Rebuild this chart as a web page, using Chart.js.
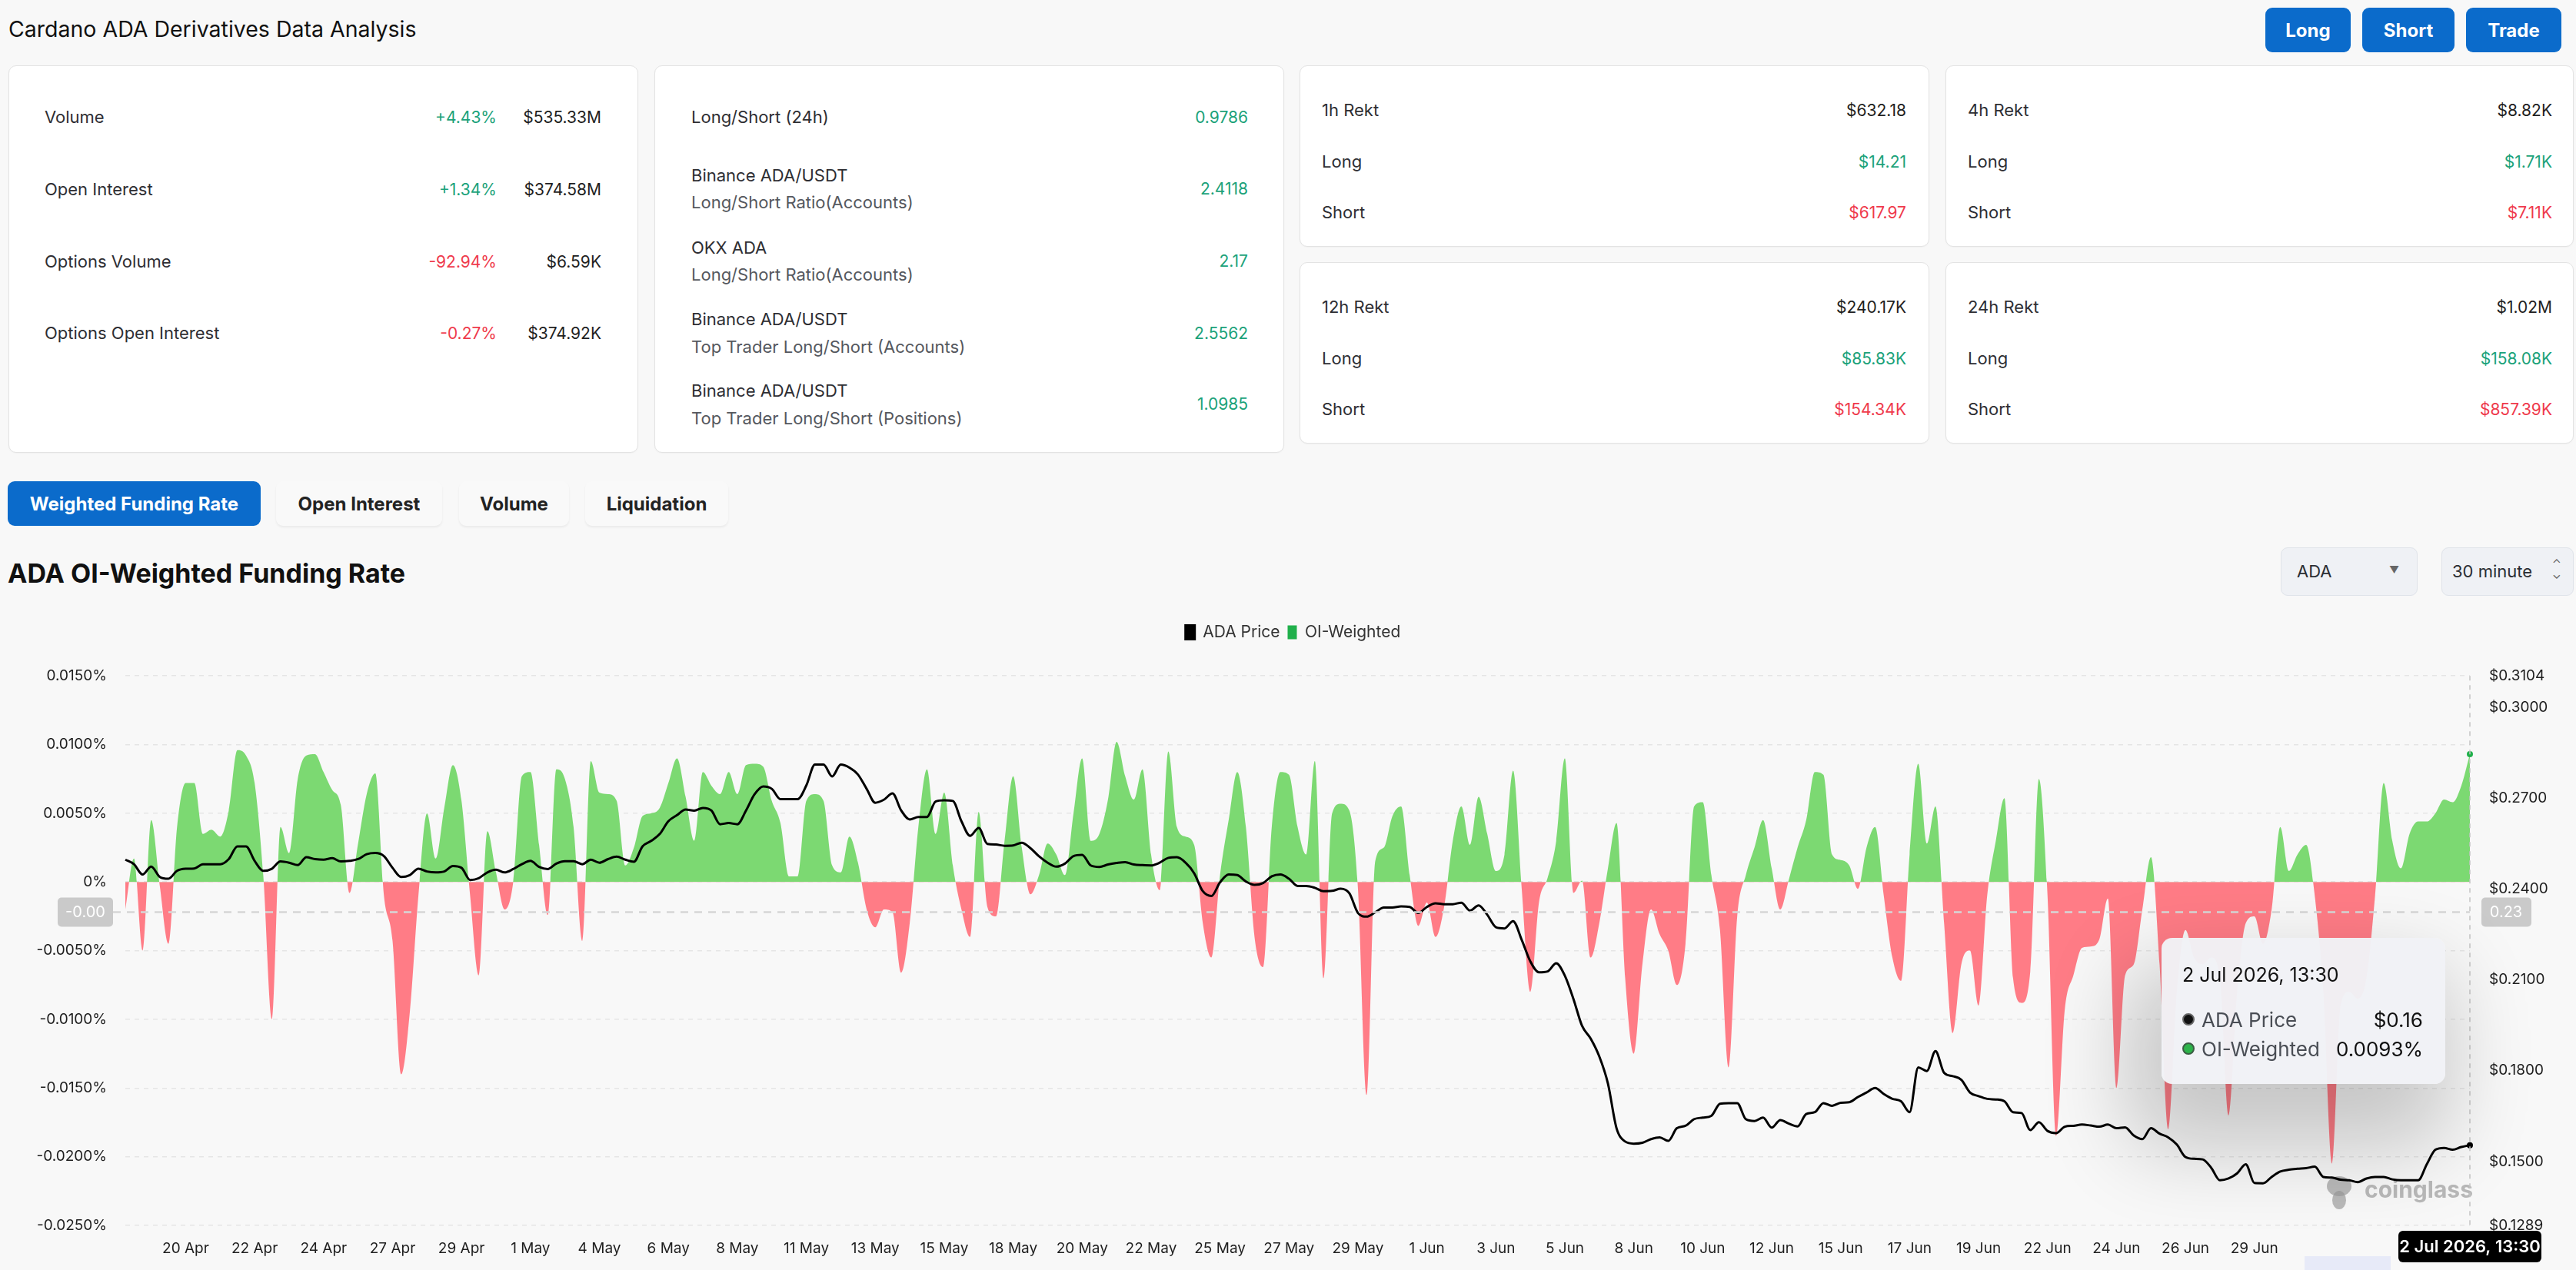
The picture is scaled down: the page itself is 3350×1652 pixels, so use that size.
<!DOCTYPE html>
<html>
<head>
<meta charset="utf-8">
<title>Cardano ADA Derivatives Data Analysis</title>
<script src="https://cdn.jsdelivr.net/npm/chart.js@4.4.1/dist/chart.umd.min.js"></script>
<style>
  body { margin: 0; width: 3350px; height: 1652px; background: #f8f8f8; font-family: Inter, "Noto Sans", sans-serif; color: #1d1d1f; position: relative; overflow: hidden; }
  .abs { position: absolute; white-space: nowrap; }
  .card { position: absolute; background: #fff; border: 1px solid #e3e3e3; border-radius: 10px; box-sizing: border-box; box-shadow: 0 1px 2px rgba(0,0,0,0.03); }
  .row { position: absolute; transform: translateY(-50%); font-size: 22px; white-space: nowrap; color: #2e2e33; }
  .sub { font-size: 22px; color: #55585e; }
  .val { color: #1f1f22; font-size: 21px; }
  .up { color: #1ba27a; font-size: 21px; }
  .down { color: #ef3a4c; font-size: 21px; }
  .btn { position: absolute; top: 10px; height: 58px; border-radius: 9px; background: #0b6bcb; color: #fff; font-weight: 700; font-size: 24px; display: flex; align-items: center; justify-content: center; }
  .tab { position: absolute; top: 626px; height: 58px; border-radius: 9px; font-weight: 700; font-size: 24px; display: flex; align-items: center; justify-content: center; color: #222; background: #f9f9f9; box-shadow: 0 2px 3px rgba(0,0,0,0.06); }
  .tab.active { background: #0b6bcb; color: #fff; box-shadow: none; }
  .select { position: absolute; top: 712px; height: 63px; background: #eff1f5; border: 1px solid #dfe3e9; border-radius: 9px; box-sizing: border-box; font-size: 22px; color: #2a2d33; }
  #tip { position: absolute; left: 2811px; top: 1220px; width: 369px; height: 190px; background: rgba(241,242,246,0.97); border-radius: 14px; box-shadow: -20px 60px 110px 25px rgba(0,0,0,0.2); }
  #tip .t { position: absolute; transform: translateY(-50%); white-space: nowrap; }
  .dot { position: absolute; width: 12px; height: 12px; border-radius: 50%; transform: translateY(-50%); }
</style>
</head>
<body>

<div class="abs" style="left:11px;top:20px;font-size:28.5px;color:#111;">Cardano ADA Derivatives Data Analysis</div>
<div class="btn" style="left:2946px;width:111px;">Long</div>
<div class="btn" style="left:3072px;width:120px;">Short</div>
<div class="btn" style="left:3207px;width:124px;">Trade</div>

<!-- market overview -->
<div class="card" style="left:11px;top:85px;width:819px;height:504px;">
  <div class="row" style="left:46px;top:66px;">Volume</div>
  <div class="row up" style="right:183px;top:66px;">+4.43%</div>
  <div class="row val" style="right:47px;top:66px;">$535.33M</div>
  <div class="row" style="left:46px;top:160px;">Open Interest</div>
  <div class="row up" style="right:183px;top:160px;">+1.34%</div>
  <div class="row val" style="right:47px;top:160px;">$374.58M</div>
  <div class="row" style="left:46px;top:254px;">Options Volume</div>
  <div class="row down" style="right:183px;top:254px;">-92.94%</div>
  <div class="row val" style="right:47px;top:254px;">$6.59K</div>
  <div class="row" style="left:46px;top:347px;">Options Open Interest</div>
  <div class="row down" style="right:183px;top:347px;">-0.27%</div>
  <div class="row val" style="right:47px;top:347px;">$374.92K</div>
</div>

<div class="card" style="left:851px;top:85px;width:819px;height:504px;">
  <div class="row" style="left:47px;top:66px;">Long/Short (24h)</div>
  <div class="row up" style="right:46px;top:66px;">0.9786</div>
  <div class="row" style="left:47px;top:142px;">Binance ADA/USDT</div>
  <div class="row sub" style="left:47px;top:177px;">Long/Short Ratio(Accounts)</div>
  <div class="row up" style="right:46px;top:159px;">2.4118</div>
  <div class="row" style="left:47px;top:236px;">OKX ADA</div>
  <div class="row sub" style="left:47px;top:271px;">Long/Short Ratio(Accounts)</div>
  <div class="row up" style="right:46px;top:253px;">2.17</div>
  <div class="row" style="left:47px;top:329px;">Binance ADA/USDT</div>
  <div class="row sub" style="left:47px;top:365px;">Top Trader Long/Short (Accounts)</div>
  <div class="row up" style="right:46px;top:347px;">2.5562</div>
  <div class="row" style="left:47px;top:422px;">Binance ADA/USDT</div>
  <div class="row sub" style="left:47px;top:458px;">Top Trader Long/Short (Positions)</div>
  <div class="row up" style="right:46px;top:439px;">1.0985</div>
</div>

<div class="card" style="left:1690px;top:85px;width:819px;height:236px;">
  <div class="row" style="left:28px;top:57px;">1h Rekt</div><div class="row val" style="right:29px;top:57px;">$632.18</div>
  <div class="row" style="left:28px;top:124px;">Long</div><div class="row up" style="right:29px;top:124px;">$14.21</div>
  <div class="row" style="left:28px;top:190px;">Short</div><div class="row down" style="right:29px;top:190px;">$617.97</div>
</div>
<div class="card" style="left:2530px;top:85px;width:817px;height:236px;">
  <div class="row" style="left:28px;top:57px;">4h Rekt</div><div class="row val" style="right:27px;top:57px;">$8.82K</div>
  <div class="row" style="left:28px;top:124px;">Long</div><div class="row up" style="right:27px;top:124px;">$1.71K</div>
  <div class="row" style="left:28px;top:190px;">Short</div><div class="row down" style="right:27px;top:190px;">$7.11K</div>
</div>
<div class="card" style="left:1690px;top:341px;width:819px;height:236px;">
  <div class="row" style="left:28px;top:57px;">12h Rekt</div><div class="row val" style="right:29px;top:57px;">$240.17K</div>
  <div class="row" style="left:28px;top:124px;">Long</div><div class="row up" style="right:29px;top:124px;">$85.83K</div>
  <div class="row" style="left:28px;top:190px;">Short</div><div class="row down" style="right:29px;top:190px;">$154.34K</div>
</div>
<div class="card" style="left:2530px;top:341px;width:817px;height:236px;">
  <div class="row" style="left:28px;top:57px;">24h Rekt</div><div class="row val" style="right:27px;top:57px;">$1.02M</div>
  <div class="row" style="left:28px;top:124px;">Long</div><div class="row up" style="right:27px;top:124px;">$158.08K</div>
  <div class="row" style="left:28px;top:190px;">Short</div><div class="row down" style="right:27px;top:190px;">$857.39K</div>
</div>

<!-- tabs -->
<div class="tab active" style="left:10px;width:329px;">Weighted Funding Rate</div>
<div class="tab" style="left:359px;width:216px;">Open Interest</div>
<div class="tab" style="left:597px;width:143px;">Volume</div>
<div class="tab" style="left:761px;width:186px;">Liquidation</div>

<div class="abs" style="left:10px;top:725px;font-size:34px;font-weight:700;color:#111;">ADA OI-Weighted Funding Rate</div>

<div class="select" style="left:2966px;width:178px;">
  <span class="abs" style="left:20px;top:17px;">ADA</span>
  <span class="abs" style="left:140px;top:20px;font-size:13px;color:#666;">&#9660;</span>
</div>
<div class="select" style="left:3175px;width:172px;">
  <span class="abs" style="left:13px;top:17px;">30 minute</span>
  <span class="abs" style="left:143px;top:12px;font-size:15px;line-height:15px;color:#666;">&#8963;<br>&#8964;</span>
</div>

<div id="chartBox" style="position:absolute;left:0;top:790px;width:3350px;height:862px;">
  <canvas id="fundingChart"></canvas>
</div>

<div class="abs" style="left:2997px;top:1634px;width:112px;height:18px;background:#e7eaf8;"></div>

<div id="tip">
  <div class="t" id="tipTitle" style="left:27px;top:48px;font-size:25px;color:#111;"></div>
  <div class="dot" style="left:27px;top:106px;background:#111;border:2px solid #666;"></div>
  <div class="t" style="left:52px;top:106px;font-size:26px;color:#4a4e55;">ADA Price</div>
  <div class="t" id="tipPrice" style="right:29px;top:106px;font-size:26px;color:#111;"></div>
  <div class="dot" style="left:27px;top:144px;background:#2db34a;border:2px solid #3c5d44;"></div>
  <div class="t" style="left:52px;top:144px;font-size:26px;color:#4a4e55;">OI-Weighted</div>
  <div class="t" id="tipRate" style="right:29px;top:144px;font-size:26px;color:#111;"></div>
</div>

<script>
// x-axis: one point every 1/8 of a tick step, first tick at point 7
const tickLabels = ['20 Apr', '22 Apr', '24 Apr', '27 Apr', '29 Apr', '1 May', '4 May', '6 May', '8 May', '11 May',
    '13 May', '15 May', '18 May', '20 May', '22 May', '25 May', '27 May', '29 May', '1 Jun', '3 Jun',
    '5 Jun', '8 Jun', '10 Jun', '12 Jun', '15 Jun', '17 Jun', '19 Jun', '22 Jun', '24 Jun', '26 Jun', '29 Jun'];
const firstTickIndex = 7;
const pointsPerTick = 8;
const lastTimeLabel = '2 Jul 2026, 13:30';

// OI-weighted funding rate (%)
const fundingRate = [
    -0.0020, 0.0017, -0.0050, 0.0045, -0.0003, -0.0045, 0.0040, 0.0072, 0.0072, 0.0035,
    0.0038, 0.0033, 0.0052, 0.0096, 0.0092, 0.0072, 0.0005, -0.0100, 0.0040, 0.0021,
    0.0075, 0.0092, 0.0093, 0.0080, 0.0067, 0.0056, -0.0008, 0.0028, 0.0064, 0.0079,
    -0.0010, -0.0043, -0.0140, -0.0095, -0.0010, 0.0050, 0.0017, 0.0054, 0.0085, 0.0059,
    -0.0010, -0.0068, 0.0037, 0.0007, -0.0020, 0.0000, 0.0077, 0.0080, 0.0027, -0.0024,
    0.0082, 0.0075, 0.0040, -0.0043, 0.0088, 0.0065, 0.0064, 0.0059, 0.0012, 0.0025,
    0.0048, 0.0050, 0.0054, 0.0072, 0.0090, 0.0062, 0.0030, 0.0080, 0.0070, 0.0064,
    0.0080, 0.0064, 0.0085, 0.0086, 0.0084, 0.0059, 0.0043, 0.0004, 0.0004, 0.0059,
    0.0064, 0.0059, 0.0012, 0.0007, 0.0033, 0.0014, -0.0020, -0.0033, -0.0020, -0.0022,
    -0.0066, -0.0030, 0.0040, 0.0082, 0.0035, 0.0065, 0.0012, -0.0020, -0.0040, 0.0051,
    -0.0018, -0.0025, 0.0030, 0.0077, 0.0025, -0.0009, 0.0005, 0.0028, 0.0020, 0.0005,
    0.0050, 0.0090, 0.0030, 0.0035, 0.0060, 0.0102, 0.0077, 0.0060, 0.0082, 0.0020,
    -0.0006, 0.0095, 0.0040, 0.0033, 0.0027, -0.0030, -0.0055, 0.0005, 0.0045, 0.0080,
    0.0040, -0.0040, -0.0062, 0.0040, 0.0080, 0.0078, 0.0040, 0.0020, 0.0088, -0.0070,
    0.0050, 0.0057, 0.0052, -0.0005, -0.0155, 0.0015, 0.0025, 0.0048, 0.0055, 0.0005,
    -0.0032, -0.0015, -0.0040, -0.0018, 0.0030, 0.0055, 0.0027, 0.0062, 0.0035, 0.0008,
    0.0020, 0.0081, -0.0005, -0.0080, -0.0015, 0.0003, 0.0030, 0.0090, -0.0008, 0.0001,
    -0.0055, -0.0030, 0.0010, 0.0043, -0.0070, -0.0125, -0.0060, -0.0020, -0.0038, -0.0050,
    -0.0075, -0.0045, 0.0055, 0.0058, 0.0005, -0.0035, -0.0135, -0.0025, 0.0005, 0.0025,
    0.0045, 0.0010, -0.0020, 0.0002, 0.0025, 0.0045, 0.0080, 0.0078, 0.0020, 0.0016,
    0.0012, -0.0005, 0.0025, 0.0040, -0.0010, -0.0055, -0.0072, 0.0020, 0.0086, 0.0028,
    0.0055, -0.0030, -0.0110, -0.0060, -0.0050, -0.0090, -0.0010, 0.0030, 0.0061, -0.0070,
    -0.0088, -0.0065, 0.0075, -0.0010, -0.0185, -0.0093, -0.0068, -0.0048, -0.0047, -0.0042,
    -0.0012, -0.0150, -0.0068, -0.0060, -0.0020, 0.0018, -0.0060, -0.0180, -0.0080, -0.0035,
    -0.0055, -0.0060, -0.0055, -0.0070, -0.0170, -0.0080, -0.0030, -0.0025, -0.0045, -0.0020,
    0.0040, 0.0008, 0.0020, 0.0027, -0.0010, -0.0080, -0.0205, -0.0090, -0.0080, -0.0085,
    -0.0070, -0.0010, 0.0072, 0.0030, 0.0010, 0.0035, 0.0044, 0.0044, 0.0050, 0.0060,
    0.0058, 0.0070, 0.0093
];

// ADA price (USD)
const adaPrice = [
    0.2497, 0.2482, 0.2448, 0.2474, 0.2440, 0.2434, 0.2460, 0.2467, 0.2468, 0.2482,
    0.2482, 0.2482, 0.2499, 0.2541, 0.2541, 0.2493, 0.2460, 0.2467, 0.2491, 0.2487,
    0.2479, 0.2505, 0.2499, 0.2497, 0.2502, 0.2491, 0.2493, 0.2499, 0.2515, 0.2519,
    0.2509, 0.2470, 0.2440, 0.2446, 0.2467, 0.2458, 0.2455, 0.2458, 0.2476, 0.2470,
    0.2430, 0.2436, 0.2455, 0.2464, 0.2455, 0.2466, 0.2482, 0.2493, 0.2473, 0.2466,
    0.2484, 0.2492, 0.2492, 0.2482, 0.2497, 0.2487, 0.2499, 0.2507, 0.2497, 0.2490,
    0.2541, 0.2559, 0.2582, 0.2624, 0.2644, 0.2663, 0.2659, 0.2668, 0.2659, 0.2614,
    0.2618, 0.2614, 0.2659, 0.2713, 0.2739, 0.2731, 0.2697, 0.2697, 0.2697, 0.2742,
    0.2811, 0.2811, 0.2772, 0.2811, 0.2801, 0.2778, 0.2731, 0.2685, 0.2695, 0.2716,
    0.2660, 0.2630, 0.2638, 0.2638, 0.2689, 0.2693, 0.2691, 0.2624, 0.2576, 0.2602,
    0.2549, 0.2547, 0.2543, 0.2544, 0.2553, 0.2535, 0.2508, 0.2487, 0.2474, 0.2484,
    0.2509, 0.2513, 0.2478, 0.2473, 0.2481, 0.2486, 0.2489, 0.2481, 0.2479, 0.2478,
    0.2487, 0.2503, 0.2505, 0.2487, 0.2452, 0.2393, 0.2377, 0.2422, 0.2448, 0.2446,
    0.2425, 0.2414, 0.2420, 0.2442, 0.2448, 0.2434, 0.2410, 0.2410, 0.2404, 0.2393,
    0.2394, 0.2401, 0.2386, 0.2321, 0.2309, 0.2323, 0.2339, 0.2339, 0.2343, 0.2341,
    0.2321, 0.2341, 0.2353, 0.2350, 0.2350, 0.2355, 0.2329, 0.2346, 0.2315, 0.2274,
    0.2270, 0.2294, 0.2232, 0.2161, 0.2125, 0.2128, 0.2155, 0.2114, 0.2037, 0.1948,
    0.1906, 0.1847, 0.1758, 0.1610, 0.1566, 0.1559, 0.1562, 0.1574, 0.1580, 0.1568,
    0.1610, 0.1618, 0.1640, 0.1645, 0.1651, 0.1691, 0.1693, 0.1693, 0.1640, 0.1634,
    0.1645, 0.1612, 0.1637, 0.1625, 0.1616, 0.1657, 0.1663, 0.1693, 0.1684, 0.1694,
    0.1696, 0.1713, 0.1728, 0.1743, 0.1723, 0.1707, 0.1699, 0.1663, 0.1811, 0.1799,
    0.1865, 0.1793, 0.1782, 0.1770, 0.1728, 0.1716, 0.1707, 0.1705, 0.1699, 0.1663,
    0.1660, 0.1604, 0.1630, 0.1601, 0.1594, 0.1615, 0.1618, 0.1622, 0.1619, 0.1615,
    0.1622, 0.1610, 0.1613, 0.1586, 0.1574, 0.1610, 0.1592, 0.1580, 0.1556, 0.1515,
    0.1509, 0.1507, 0.1479, 0.1438, 0.1444, 0.1461, 0.1491, 0.1429, 0.1428, 0.1449,
    0.1467, 0.1473, 0.1476, 0.1478, 0.1483, 0.1449, 0.1447, 0.1440, 0.1438, 0.1432,
    0.1444, 0.1449, 0.1449, 0.1441, 0.1438, 0.1438, 0.1438, 0.1491, 0.1539, 0.1545,
    0.1539, 0.1548, 0.1554
];

const priceTicks = [0.1289, 0.15, 0.18, 0.21, 0.24, 0.27, 0.30, 0.3104];
const crosshairRate = -0.0022;   // where the hover line sits on the left axis

const FONT = 'Inter, "Noto Sans", sans-serif';
const lastIndex = fundingRate.length - 1;

const categories = fundingRate.map(function(_, i) {
    const k = (i - firstTickIndex) / pointsPerTick;
    return (Number.isInteger(k) && k >= 0 && k < tickLabels.length) ? tickLabels[k] : '';
});

function roundRect(ctx, x, y, w, h, r) {
    ctx.beginPath();
    ctx.moveTo(x + r, y);
    ctx.arcTo(x + w, y, x + w, y + h, r);
    ctx.arcTo(x + w, y + h, x, y + h, r);
    ctx.arcTo(x, y + h, x, y, r);
    ctx.arcTo(x, y, x + w, y, r);
    ctx.closePath();
}

// watermark + hover crosshair with its axis labels
const crosshairPlugin = {
    id: 'crosshair',
    beforeDatasetsDraw(chart) {
        const ctx = chart.ctx, a = chart.chartArea;
        ctx.save();
        ctx.fillStyle = 'rgba(150,150,150,0.65)';
        const lx = a.right - 170, ly = a.bottom - 45;
        ctx.beginPath();
        ctx.ellipse(lx, ly - 6, 16, 13, 0, 0, Math.PI * 2);
        ctx.fill();
        ctx.beginPath();
        ctx.ellipse(lx, ly + 12, 9, 12, 0, 0, Math.PI * 2);
        ctx.fill();
        ctx.font = '700 30px ' + FONT;
        ctx.textBaseline = 'middle';
        ctx.fillText('coinglass', a.right - 137, ly);
        ctx.restore();
    },
    afterDraw(chart) {
        const ctx = chart.ctx, a = chart.chartArea;
        const xs = chart.scales.x, yl = chart.scales.y, yr = chart.scales.y1;
        const cx = xs.getPixelForValue(lastIndex);
        const cy = yl.getPixelForValue(crosshairRate);
        ctx.save();
        ctx.strokeStyle = '#c4c4c4';
        ctx.lineWidth = 1.5;
        ctx.setLineDash([6, 6]);
        ctx.beginPath();
        ctx.moveTo(cx, a.top);
        ctx.lineTo(cx, a.bottom);
        ctx.stroke();
        ctx.strokeStyle = '#d6d6d6';
        ctx.lineWidth = 2.5;
        ctx.setLineDash([10, 8]);
        ctx.beginPath();
        ctx.moveTo(a.left - 16, cy);
        ctx.lineTo(cx, cy);
        ctx.stroke();
        ctx.setLineDash([]);

        ctx.font = '20px ' + FONT;
        ctx.textAlign = 'center';
        ctx.textBaseline = 'middle';
        ctx.fillStyle = '#cacaca';
        roundRect(ctx, 75, cy - 19, 72, 38, 5);
        ctx.fill();
        ctx.fillStyle = '#fff';
        ctx.fillText(crosshairRate.toFixed(2), 111, cy);

        ctx.fillStyle = '#cacaca';
        roundRect(ctx, a.right + 15, cy - 19, 65, 38, 5);
        ctx.fill();
        ctx.fillStyle = '#fff';
        ctx.fillText(yr.getValueForPixel(cy).toFixed(2), a.right + 47, cy);

        ctx.font = '600 22px ' + FONT;
        ctx.fillStyle = '#000';
        roundRect(ctx, cx - 93, a.bottom + 7, 186, 41, 6);
        ctx.fill();
        ctx.fillStyle = '#fff';
        ctx.fillText(lastTimeLabel, cx, a.bottom + 28);
        ctx.restore();
    }
};

document.getElementById('tipTitle').textContent = lastTimeLabel;
document.getElementById('tipPrice').textContent = '$' + adaPrice[lastIndex].toFixed(2);
document.getElementById('tipRate').textContent = fundingRate[lastIndex].toFixed(4) + '%';

const lastPointOnly = function(ctx) { return ctx.dataIndex === lastIndex ? 4 : 0; };

new Chart(document.getElementById('fundingChart'), {
    type: 'line',
    data: {
        labels: categories,
        datasets: [
            {
                label: 'ADA Price',
                data: adaPrice,
                yAxisID: 'y1',
                borderColor: '#000',
                backgroundColor: '#000',
                borderWidth: 3,
                pointRadius: lastPointOnly,
                pointBackgroundColor: '#000',
                pointBorderWidth: 0,
                tension: 0.4,
                cubicInterpolationMode: 'monotone',
                fill: false
            },
            {
                label: 'OI-Weighted',
                data: fundingRate,
                yAxisID: 'y',
                borderColor: 'rgba(0,0,0,0)',
                backgroundColor: '#20b04b',
                borderWidth: 0,
                pointRadius: lastPointOnly,
                pointBackgroundColor: '#20b04b',
                pointBorderWidth: 0,
                tension: 0.4,
                cubicInterpolationMode: 'monotone',
                fill: { target: 'origin', above: '#7cd972', below: '#ff7c86' }
            }
        ]
    },
    options: {
        responsive: true,
        maintainAspectRatio: false,
        animation: false,
        devicePixelRatio: 1,
        layout: { padding: { left: 13, right: 0, top: 12, bottom: 0 } },
        plugins: {
            legend: {
                labels: { boxWidth: 12, boxHeight: 18, padding: 10, color: '#333', font: { size: 21, family: FONT } }
            },
            // empty spacer between the legend and the plot
            subtitle: { display: true, text: ' ', weight: 900, font: { size: 1 }, padding: { top: 0, bottom: 35 } },
            tooltip: { enabled: false }
        },
        scales: {
            x: {
                offset: false,
                grid: { display: false },
                border: { display: false },
                ticks: { autoSkip: false, maxRotation: 0, minRotation: 0, padding: 11, color: '#1e1e1e', font: { size: 19, family: FONT } },
                afterFit: function(scale) { scale.height = 58; }
            },
            y: {
                position: 'left',
                min: -0.025,
                max: 0.015,
                grid: { color: '#e5e5e5', lineWidth: 1.5, drawTicks: false },
                border: { display: false, dash: [6, 6] },
                ticks: {
                    stepSize: 0.005,
                    padding: 24,
                    color: '#1e1e1e',
                    font: { size: 19, family: FONT },
                    callback: function(v) { return Math.abs(v) < 1e-9 ? '0%' : v.toFixed(4) + '%'; }
                },
                afterFit: function(scale) { scale.width = 150; }
            },
            y1: {
                position: 'right',
                min: priceTicks[0],
                max: priceTicks[priceTicks.length - 1],
                grid: { display: false, drawTicks: false },
                border: { display: false },
                ticks: {
                    padding: 25,
                    color: '#1e1e1e',
                    font: { size: 19, family: FONT },
                    callback: function(v) { return '$' + v.toFixed(4); }
                },
                afterBuildTicks: function(scale) { scale.ticks = priceTicks.map(function(v) { return { value: v }; }); },
                afterFit: function(scale) { scale.width = 138; }
            }
        }
    },
    plugins: [crosshairPlugin]
});
</script>
</body>
</html>
